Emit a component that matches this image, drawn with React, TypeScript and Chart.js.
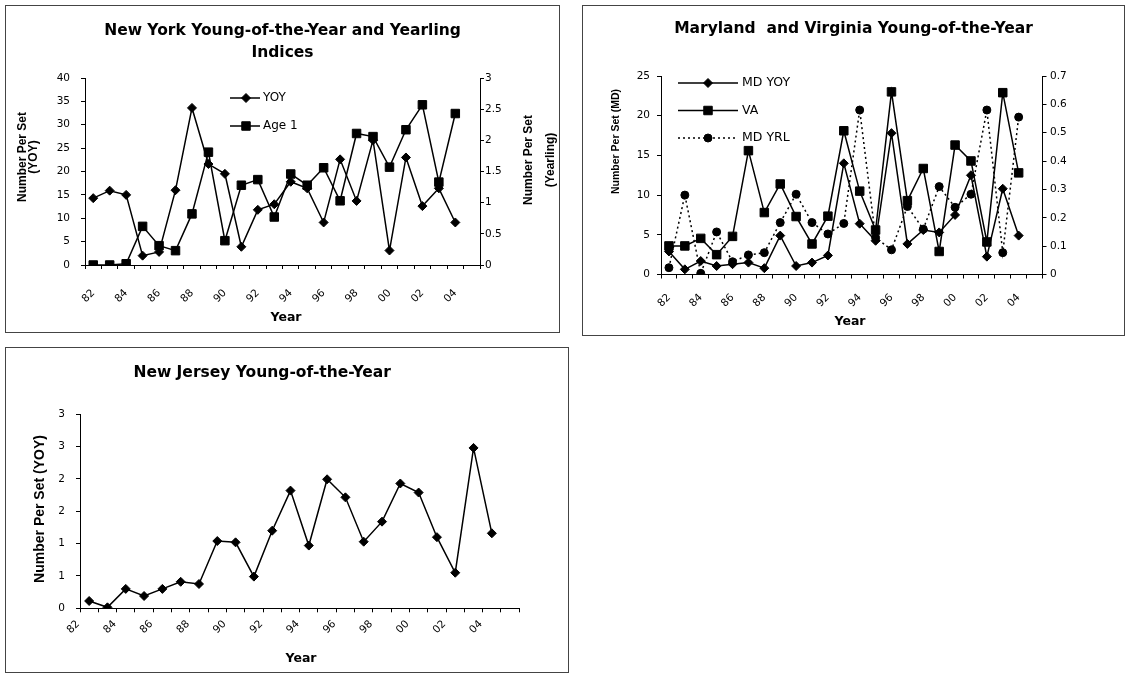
import React, { useEffect, useRef } from 'react';
import { Chart, registerables } from 'chart.js';

Chart.register(...registerables);

// ---------- data ----------
const years = ['82','83','84','85','86','87','88','89','90','91','92','93','94','95','96','97','98','99','00','01','02','03','04','05'];

const nyYoy = [14.3, 15.9, 15.0, 2.0, 2.8, 16.0, 33.6, 21.6, 19.5, 3.9, 11.8, 13.0, 17.8, 16.4, 9.1, 22.6, 13.7, 26.7, 3.1, 23.0, 12.6, 16.4, 9.1];
const nyAge1 = [0.0, 0.0, 0.02, 0.62, 0.31, 0.23, 0.82, 1.81, 0.39, 1.28, 1.37, 0.77, 1.46, 1.28, 1.56, 1.03, 2.11, 2.06, 1.57, 2.17, 2.57, 1.33, 2.43];

const mdYoy = [2.9, 0.65, 1.7, 1.07, 1.3, 1.5, 0.8, 4.9, 1.07, 1.5, 2.4, 14.0, 6.4, 4.25, 17.8, 3.85, 5.6, 5.3, 7.5, 12.5, 2.25, 10.8, 4.9];
const vaYoy = [3.6, 3.6, 4.55, 2.5, 4.8, 15.6, 7.8, 11.4, 7.3, 3.85, 7.35, 18.1, 10.5, 5.6, 23.0, 9.3, 13.35, 2.9, 16.3, 14.3, 4.1, 22.9, 12.8];
const mdYrl = [0.024, 0.28, 0.004, 0.15, 0.045, 0.069, 0.077, 0.183, 0.283, 0.183, 0.143, 0.18, 0.58, 0.13, 0.087, 0.24, 0.16, 0.31, 0.237, 0.283, 0.58, 0.077, 0.555];

const njYoy = [0.113, 0.015, 0.30, 0.19, 0.30, 0.41, 0.376, 1.04, 1.02, 0.49, 1.2, 1.82, 0.97, 1.995, 1.716, 1.03, 1.34, 1.93, 1.79, 1.10, 0.55, 2.48, 1.16];

const nyTitle = ['New York Young-of-the-Year and Yearling', 'Indices'];
const mdTitle = 'Maryland  and Virginia Young-of-the-Year';
const njTitle = 'New Jersey Young-of-the-Year';

// ---------- styling helpers ----------
const SANS = "'DejaVu Sans', sans-serif";
const ARIAL = "'Liberation Sans', Arial, sans-serif";
const INK = '#000';

function drawMarker(ctx: CanvasRenderingContext2D, style: string, r: number, x: number, y: number) {
  ctx.beginPath();
  if (style === 'rectRot') {
    ctx.moveTo(x, y - r); ctx.lineTo(x + r, y); ctx.lineTo(x, y + r); ctx.lineTo(x - r, y); ctx.closePath();
  } else if (style === 'rect') {
    const s = r * Math.SQRT1_2;
    ctx.rect(x - s, y - s, 2 * s, 2 * s);
  } else {
    ctx.arc(x, y, r, 0, Math.PI * 2);
  }
  ctx.fillStyle = INK;
  ctx.fill();
  ctx.lineWidth = 1;
  ctx.strokeStyle = INK;
  ctx.stroke();
}

const annotPlugin = {
  id: 'annot',
  afterDraw(chart: any, _args: any, opts: any) {
    const ctx: CanvasRenderingContext2D = chart.ctx;
    const texts = (opts && opts.texts) || [];
    for (const t of texts) {
      ctx.save();
      ctx.translate(t.x, t.y);
      if (t.rotation) ctx.rotate((t.rotation * Math.PI) / 180);
      ctx.font = t.font;
      ctx.fillStyle = INK;
      ctx.textAlign = 'center';
      ctx.textBaseline = 'middle';
      ctx.fillText(t.text, 0, 0);
      ctx.restore();
    }
    const lg = opts && opts.legend;
    if (lg) {
      chart.data.datasets.forEach((ds: any, i: number) => {
        const y = lg.y + i * lg.rowHeight;
        ctx.save();
        ctx.strokeStyle = ds.borderColor;
        ctx.lineWidth = ds.borderWidth;
        ctx.setLineDash(ds.borderDash || []);
        ctx.beginPath();
        ctx.moveTo(lg.x1, y);
        ctx.lineTo(lg.x2, y);
        ctx.stroke();
        ctx.setLineDash([]);
        drawMarker(ctx, ds.pointStyle, ds.pointRadius, lg.mx, y);
        ctx.font = lg.font;
        ctx.fillStyle = INK;
        ctx.textAlign = 'left';
        ctx.textBaseline = 'middle';
        ctx.fillText(ds.label, lg.tx, y);
        ctx.restore();
      });
    }
  },
};

function lineDataset(label: string, data: number[], style: string, radius: number, yAxisID: string, dash?: number[]) {
  return {
    label,
    data,
    yAxisID,
    borderColor: INK,
    backgroundColor: INK,
    borderWidth: 1.5,
    borderDash: dash || [],
    pointStyle: style,
    pointRadius: radius,
    pointBorderWidth: 1,
    pointBackgroundColor: INK,
    pointBorderColor: INK,
    tension: 0,
  };
}

function xScale(height: number, padding: number, labelOffset = 0) {
  return {
    type: 'category',
    offset: true,
    grid: { offset: true, drawOnChartArea: false, drawTicks: true, tickLength: 4, color: INK, lineWidth: 1 },
    border: { display: true, color: INK, width: 1 },
    ticks: {
      autoSkip: false,
      minRotation: 45,
      maxRotation: 45,
      padding,
      labelOffset,
      color: INK,
      font: { family: SANS, size: 10.5 },
      callback: function (this: any, value: any, index: number) {
        return index % 2 === 0 ? this.getLabelForValue(value) : '';
      },
    },
    afterFit: (s: any) => { s.height = height; },
  };
}

function yScale(position: string, width: number, min: number, max: number, step: number, padding: number, fmt: (v: number) => string) {
  return {
    type: 'linear',
    position,
    min,
    max,
    grid: { drawOnChartArea: false, drawTicks: true, tickLength: 4, color: INK, lineWidth: 1 },
    border: { display: true, color: INK, width: 1 },
    ticks: {
      stepSize: step,
      padding,
      color: INK,
      font: { family: SANS, size: 10.5 },
      callback: (v: any) => fmt(Number(v)),
    },
    afterFit: (s: any) => { s.width = width; },
  };
}

function titleOpts(text: any, top: number, bottom: number) {
  return {
    display: true,
    text,
    color: INK,
    font: { family: SANS, size: 15.5, weight: 'bold', lineHeight: '22px' },
    padding: { top, bottom },
  };
}

// ---------- chart configs ----------
function buildNY(): any {
  return {
    type: 'line',
    data: {
      labels: years,
      datasets: [
        lineDataset('YOY', nyYoy, 'rectRot', 4.5, 'y'),
        lineDataset('Age 1', nyAge1, 'rect', 6, 'y2'),
      ],
    },
    options: {
      responsive: false,
      animation: false,
      layout: { padding: 0 },
      scales: {
        x: xScale(68, 18),
        y: yScale('left', 80, 0, 40, 5, 11, (v) => String(v)),
        y2: yScale('right', 80, 0, 3, 0.5, 1, (v) => String(Math.round(v * 10) / 10)),
      },
      plugins: {
        legend: { display: false },
        tooltip: { enabled: false },
        title: titleOpts(nyTitle, 14.5, 14.5),
        annot: {
          texts: [
            { text: 'Number Per Set', x: 18, y: 152, rotation: -90, font: `bold 12px ${ARIAL}` },
            { text: '(YOY)', x: 29, y: 152, rotation: -90, font: `bold 12px ${ARIAL}` },
            { text: 'Number Per Set', x: 524, y: 155, rotation: -90, font: `bold 12px ${ARIAL}` },
            { text: '(Yearling)', x: 546, y: 155, rotation: -90, font: `bold 12px ${ARIAL}` },
            { text: 'Year', x: 281, y: 312.5, font: `bold 12.5px ${SANS}` },
          ],
          legend: { x1: 225, x2: 255, mx: 241, tx: 258, y: 93, rowHeight: 28, font: `12px ${SANS}` },
        },
      },
    },
    plugins: [annotPlugin],
  };
}

function buildMD(): any {
  return {
    type: 'line',
    data: {
      labels: years,
      datasets: [
        lineDataset('MD YOY', mdYoy, 'rectRot', 4.5, 'y'),
        lineDataset('VA', vaYoy, 'rect', 6, 'y'),
        lineDataset('MD YRL', mdYrl, 'circle', 4, 'y2', [2, 3]),
      ],
    },
    options: {
      responsive: false,
      animation: false,
      layout: { padding: 0 },
      scales: {
        x: xScale(61.5, 13),
        y: yScale('left', 79, 0, 25, 5, 7, (v) => String(v)),
        y2: yScale('right', 82.5, 0, 0.7, 0.1, 3.5, (v) => String(Math.round(v * 10) / 10)),
      },
      plugins: {
        legend: { display: false },
        tooltip: { enabled: false },
        title: titleOpts(mdTitle, 13, 36),
        annot: {
          texts: [
            { text: 'Number Per Set (MD)', x: 34, y: 136.5, rotation: -90, font: `bold 10.5px ${ARIAL}` },
            { text: 'Year', x: 268, y: 317, font: `bold 12.5px ${SANS}` },
          ],
          legend: { x1: 96, x2: 156, mx: 126, tx: 160, y: 78, rowHeight: 27.5, font: `12.5px ${SANS}` },
        },
      },
    },
    plugins: [annotPlugin],
  };
}

function buildNJ(): any {
  return {
    type: 'line',
    data: {
      labels: years,
      datasets: [lineDataset('YOY', njYoy, 'rectRot', 4.5, 'y')],
    },
    options: {
      responsive: false,
      animation: false,
      layout: { padding: { right: 49.7 } },
      scales: {
        x: xScale(64.7, 5.5, -11),
        y: yScale('left', 75, 0, 3, 0.5, 11, (v) => String(Math.round(v))),
      },
      plugins: {
        legend: { display: false },
        tooltip: { enabled: false },
        title: titleOpts(njTitle, 15, 30.3),
        annot: {
          texts: [
            { text: 'Number Per Set (YOY)', x: 35, y: 162, rotation: -90, font: `bold 14px ${ARIAL}` },
            { text: 'Year', x: 296, y: 311.5, font: `bold 12.5px ${SANS}` },
          ],
        },
      },
    },
    plugins: [annotPlugin],
  };
}

// ---------- components ----------
function Panel({ left, top, width, height, build }: { left: number; top: number; width: number; height: number; build: () => any }) {
  const ref = useRef<HTMLCanvasElement>(null);
  useEffect(() => {
    const chart = new Chart(ref.current as HTMLCanvasElement, build());
    return () => chart.destroy();
  }, []);
  return (
    <div style={{ position: 'absolute', left, top, width, height, boxSizing: 'border-box', border: '1px solid #444' }}>
      <canvas ref={ref} width={width} height={height} style={{ position: 'absolute', left: -1, top: -1, width, height, display: 'block' }} />
    </div>
  );
}

export default function App() {
  return (
    <div style={{ position: 'absolute', left: 0, top: 0, width: 1128, height: 675, background: '#fff', overflow: 'hidden' }}>
      <Panel left={5} top={5} width={555} height={328} build={buildNY} />
      <Panel left={582} top={5} width={543} height={331} build={buildMD} />
      <Panel left={5} top={347} width={564} height={326} build={buildNJ} />
    </div>
  );
}
